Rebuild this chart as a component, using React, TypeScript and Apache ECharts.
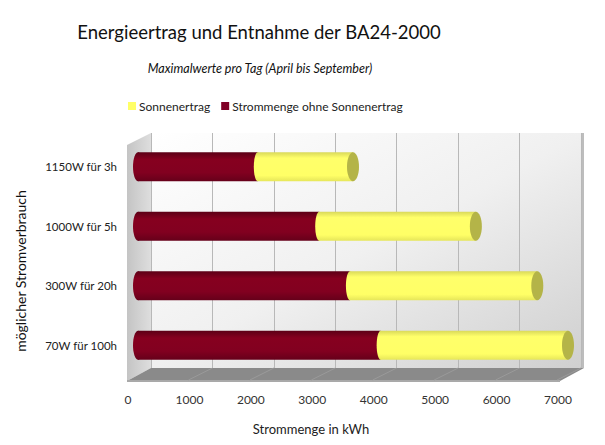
import React, { useEffect, useRef } from 'react';
import * as echarts from 'echarts';

// Kategorien von oben nach unten
const categories = ['1150W für 3h', '1000W für 5h', '300W für 20h', '70W für 100h'];
const ohneSonne = [1950, 2950, 3450, 3950];
const sonne = [1550, 2550, 3050, 3050];
const xTicks = [0, 1000, 2000, 3000, 4000, 5000, 6000, 7000];

const FONT = 'Lato, "Noto Sans", sans-serif';

const App: React.FC = () => {
  const chartRef = useRef<HTMLDivElement | null>(null);

  useEffect(() => {
    if (!chartRef.current) return;
    const chart = echarts.init(chartRef.current, undefined, { renderer: 'svg' });

    const xMin = xTicks[0];
    const xMax = xTicks[xTicks.length - 1];
    const step = xTicks[1] - xTicks[0];
    const totals = sonne.map((v, i) => v + ohneSonne[i]);

    const redFill = new echarts.graphic.LinearGradient(0, 0, 0, 1, [
      { offset: 0, color: '#5c0016' },
      { offset: 0.25, color: '#86001f' },
      { offset: 0.7, color: '#820020' },
      { offset: 1, color: '#66001a' },
    ]);
    const yellowFill = new echarts.graphic.LinearGradient(0, 0, 0, 1, [
      { offset: 0, color: '#d9d95a' },
      { offset: 0.2, color: '#ffff6a' },
      { offset: 0.8, color: '#ffff66' },
      { offset: 1, color: '#e6e65a' },
    ]);

    const ellipseSeries = (name: string, data: number[][], fill: any, rx: number) => ({
      type: 'custom',
      name,
      xAxisIndex: 0,
      yAxisIndex: 0,
      z: 4,
      silent: true,
      data,
      renderItem: (_p: any, api: any) => {
        const pt = api.coord([api.value(0), api.value(1)]);
        return {
          type: 'ellipse',
          shape: { cx: pt[0], cy: pt[1], rx, ry: 14.5 },
          style: { fill },
        };
      },
    });

    const option: any = {
      animation: false,
      backgroundColor: '#ffffff',
      textStyle: { fontFamily: FONT },
      legend: {
        left: 123,
        top: 95,
        itemWidth: 8,
        itemHeight: 8,
        itemGap: 11,
        icon: 'rect',
        textStyle: { fontFamily: FONT, fontSize: 12, color: '#222', padding: [0, 0, 0, -2] },
        data: [
          { name: 'Sonnenertrag', itemStyle: { color: '#ffff66' } },
          { name: 'Strommenge ohne Sonnenertrag', itemStyle: { color: '#800026' } },
        ],
      },
      grid: [
        { left: 138, right: 37, top: 137, bottom: 70 },
        { left: 151, right: 24, top: 133, bottom: 77 },
      ],
      xAxis: [
        {
          type: 'value',
          gridIndex: 0,
          min: xMin,
          max: xMax,
          interval: step,
          axisLine: { show: false },
          axisTick: { show: false },
          splitLine: { show: false },
          axisLabel: {
            margin: 18,
            padding: [0, 20, 0, 0],
            fontFamily: FONT,
            fontSize: 12,
            color: '#333',
            formatter: (v: number) => String(v),
          },
        },
        {
          type: 'value',
          gridIndex: 1,
          min: xMin,
          max: xMax,
          interval: step,
          axisLine: { show: false },
          axisTick: { show: false },
          axisLabel: { show: false },
          splitLine: { show: true, lineStyle: { color: '#b8b8b8', width: 1 } },
        },
      ],
      yAxis: [
        {
          type: 'category',
          gridIndex: 0,
          inverse: true,
          data: categories,
          axisLine: { show: false },
          axisTick: { show: false },
          axisLabel: { margin: 21, fontFamily: FONT, fontSize: 11.5, color: '#222' },
        },
        {
          type: 'category',
          gridIndex: 1,
          show: false,
          data: categories,
        },
      ],
      series: [
        {
          type: 'bar',
          name: 'Strommenge ohne Sonnenertrag',
          stack: 'total',
          xAxisIndex: 0,
          yAxisIndex: 0,
          barWidth: 29,
          z: 3,
          itemStyle: { color: redFill },
          data: ohneSonne,
        },
        {
          type: 'bar',
          name: 'Sonnenertrag',
          stack: 'total',
          xAxisIndex: 0,
          yAxisIndex: 0,
          barWidth: 29,
          z: 3,
          itemStyle: { color: yellowFill },
          data: sonne,
        },
        ellipseSeries('capStart', categories.map((_c, i) => [0, i]), redFill, 5),
        ellipseSeries('capJoin', ohneSonne.map((v, i) => [v, i]), yellowFill, 4),
        ellipseSeries('capEnd', totals.map((v, i) => [v, i]), '#b4b448', 6),
      ],
    };

    chart.setOption(option);

    // 3D-Rahmen (Rückwand, Seitenwand, Boden) an der Achsenskala ausrichten
    const back0 = chart.convertToPixel({ xAxisIndex: 1 }, xMin) as number;
    const backMax = chart.convertToPixel({ xAxisIndex: 1 }, xMax) as number;
    const depth = 24;
    const wallTop = 133;
    const wallBottom = 368;
    const floorFront = 381;

    const floorLines = xTicks.slice(1).map((t) => {
      const bx = chart.convertToPixel({ xAxisIndex: 1 }, t) as number;
      return {
        type: 'line',
        z: -5,
        silent: true,
        shape: { x1: bx, y1: wallBottom, x2: bx - depth, y2: floorFront - 1 },
        style: { stroke: '#9a9a9a', lineWidth: 1 },
      };
    });

    const label = (text: string, x: number, y: number, size: number, extra: any = {}) => ({
      type: 'text',
      x,
      y,
      silent: true,
      ...extra,
      style: {
        text,
        fontFamily: FONT,
        fontSize: size,
        fill: '#111',
        align: 'center',
        verticalAlign: 'middle',
        ...(extra.style || {}),
      },
    });

    chart.setOption({
      graphic: [
        label('Energieertrag und Entnahme der BA24-2000', 259, 32, 18.5),
        label('Maximalwerte pro Tag (April bis September)', 260, 68, 12.5, { style: { fontStyle: 'italic' } }),
        label('Strommenge in kWh', 311, 429, 13, { style: { fill: '#222' } }),
        label('möglicher Stromverbrauch', 20, 271, 14, { rotation: Math.PI / 2 }),
        {
          type: 'rect',
          z: -10,
          silent: true,
          shape: { x: back0, y: wallTop, width: backMax - back0 + 3, height: wallBottom - wallTop },
          style: {
            fill: new echarts.graphic.LinearGradient(0, 0, 1, 1, [
              { offset: 0, color: '#ffffff' },
              { offset: 0.5, color: '#f0f0f0' },
              { offset: 1, color: '#cfcfcf' },
            ]),
          },
        },
        {
          type: 'polygon',
          z: -9,
          silent: true,
          shape: {
            points: [
              [back0 - depth, wallTop + 12],
              [back0, wallTop],
              [back0, wallBottom],
              [back0 - depth, floorFront],
            ],
          },
          style: {
            fill: new echarts.graphic.LinearGradient(0, 0, 1, 0, [
              { offset: 0, color: '#c4c4c4' },
              { offset: 1, color: '#dedede' },
            ]),
          },
        },
        {
          type: 'polygon',
          z: -8,
          silent: true,
          shape: {
            points: [
              [back0 - depth, floorFront],
              [back0, wallBottom],
              [backMax + 3, wallBottom],
              [backMax - depth + 3, floorFront],
            ],
          },
          style: { fill: '#8a8a8a' },
        },
        {
          type: 'polygon',
          z: -8,
          silent: true,
          shape: {
            points: [
              [backMax, wallTop],
              [backMax + 3, wallTop],
              [backMax + 3, wallBottom],
              [backMax, wallBottom],
            ],
          },
          style: { fill: '#bdbdbd' },
        },
        {
          type: 'rect',
          z: -7,
          silent: true,
          shape: { x: back0 - depth, y: floorFront - 1, width: backMax - back0 + 3, height: 2 },
          style: { fill: '#a9a9a9' },
        },
        ...floorLines,
      ],
    });

    return () => {
      chart.dispose();
    };
  }, []);

  return (
    <div
      ref={chartRef}
      style={{ position: 'fixed', left: 0, top: 0, width: '605px', height: '445px', backgroundColor: 'white' }}
    />
  );
};

export default App;
